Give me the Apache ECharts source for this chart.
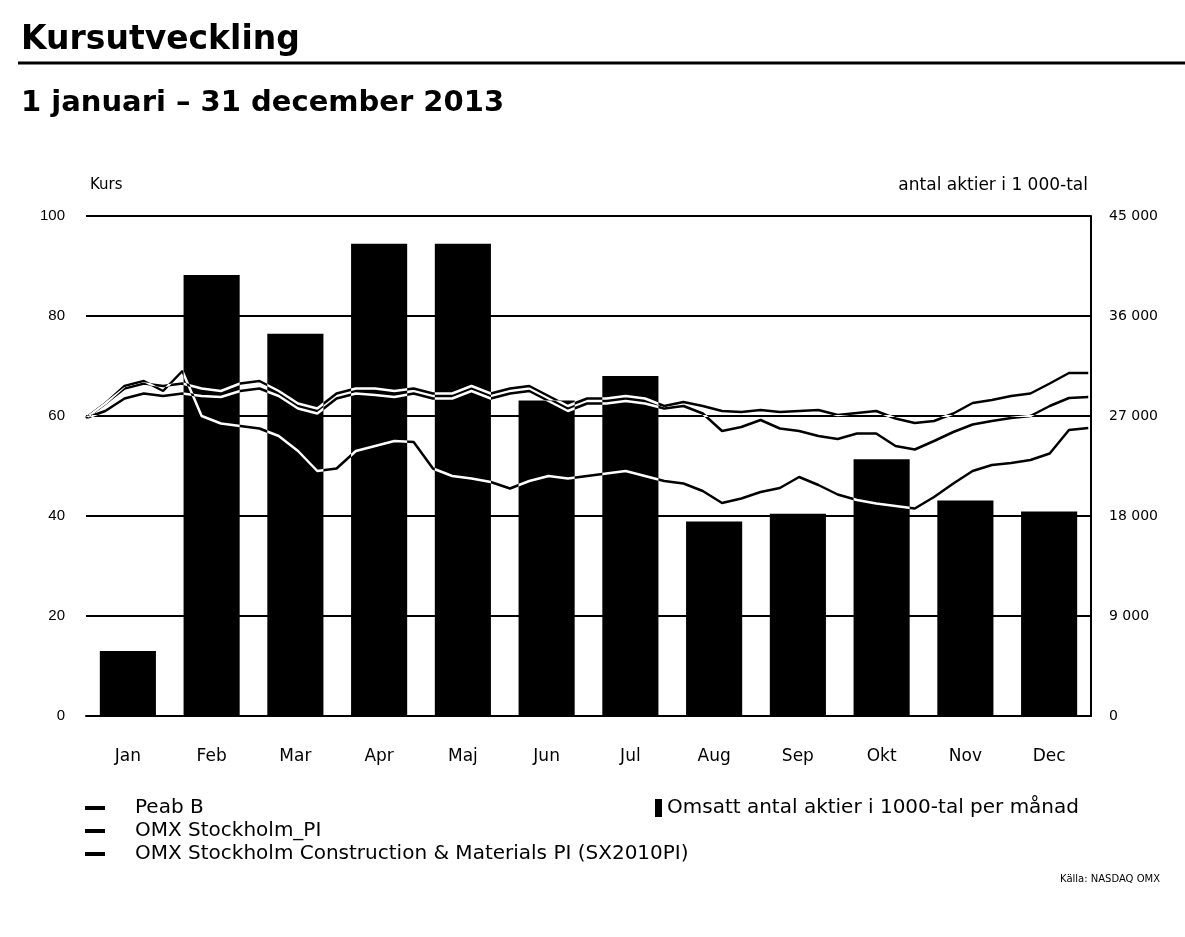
<!DOCTYPE html>
<html>
<head>
<meta charset="utf-8">
<script src="https://cdn.jsdelivr.net/npm/echarts@6/dist/echarts.min.js"></script>
<style>
  html, body { margin: 0; padding: 0; background: #fff; }
  #chart { width: 1185px; height: 937px; }
</style>
</head>
<body>
<div id="chart"></div>
<script>
// Månader och omsatt antal aktier (tusental) per månad
const months = ['Jan', 'Feb', 'Mar', 'Apr', 'Maj', 'Jun', 'Jul', 'Aug', 'Sep', 'Okt', 'Nov', 'Dec'];
const volume = [5850, 39700, 34400, 42500, 42500, 28400, 30600, 17500, 18200, 23100, 19400, 18400];

// Veckovisa kursnoteringar
const dates = [
  '2013-01-01', '2013-01-08', '2013-01-15', '2013-01-22', '2013-01-29',
  '2013-02-05', '2013-02-12', '2013-02-19', '2013-02-26',
  '2013-03-05', '2013-03-12', '2013-03-19', '2013-03-26',
  '2013-04-02', '2013-04-09', '2013-04-16', '2013-04-23', '2013-04-30',
  '2013-05-07', '2013-05-14', '2013-05-21', '2013-05-28',
  '2013-06-04', '2013-06-11', '2013-06-18', '2013-06-25',
  '2013-07-02', '2013-07-09', '2013-07-16', '2013-07-23', '2013-07-30',
  '2013-08-06', '2013-08-13', '2013-08-20', '2013-08-27',
  '2013-09-03', '2013-09-10', '2013-09-17', '2013-09-24',
  '2013-10-01', '2013-10-08', '2013-10-15', '2013-10-22', '2013-10-29',
  '2013-11-05', '2013-11-12', '2013-11-19', '2013-11-26',
  '2013-12-03', '2013-12-10', '2013-12-17', '2013-12-24', '2013-12-31'
];
const peabB = [
  59.6, 62.5, 66.0, 67.0, 65.0,
  69.0, 60.0, 58.5, 58.0,
  57.5, 56.0, 53.0, 49.0,
  49.5, 53.0, 54.0, 55.0, 54.8,
  49.5, 48.0, 47.5, 46.8,
  45.5, 47.0, 48.0, 47.5,
  48.0, 48.5, 49.0, 48.0, 47.0,
  46.5, 45.0, 42.6, 43.5,
  44.8, 45.6, 47.8, 46.2,
  44.3, 43.2, 42.5, 42.0, 41.5,
  43.8, 46.5, 49.0, 50.2,
  50.6, 51.2, 52.5, 57.2, 57.6
];
const omxPI = [
  59.6, 62.5, 65.5, 66.5, 66.0,
  66.5, 65.5, 65.0, 66.5,
  67.0, 65.0, 62.5, 61.5,
  64.5, 65.5, 65.5, 65.0, 65.5,
  64.5, 64.5, 66.0, 64.5,
  65.5, 66.0, 64.0, 62.0,
  63.5, 63.5, 64.0, 63.5, 62.0,
  62.8, 62.0, 61.0, 60.8,
  61.2, 60.8, 61.0, 61.2,
  60.2, 60.6, 61.0, 59.5, 58.6,
  59.0, 60.5, 62.6, 63.2,
  64.0, 64.5, 66.5, 68.6, 68.6
];
const omxConstr = [
  59.6, 61.0, 63.5, 64.5, 64.0,
  64.5, 64.0, 63.8, 65.0,
  65.5, 64.0, 61.5, 60.5,
  63.5, 64.5, 64.2, 63.8, 64.5,
  63.5, 63.5, 65.0, 63.5,
  64.5, 65.0, 63.0, 61.0,
  62.5, 62.5, 63.0, 62.5, 61.5,
  62.0, 60.5, 57.0, 57.8,
  59.2, 57.5, 57.0, 56.0,
  55.4, 56.5, 56.5, 54.0, 53.3,
  55.0, 56.8, 58.3, 59.0,
  59.6, 60.0, 62.0, 63.6, 63.8
];

const lineNames = ['Peab B', 'OMX Stockholm_PI', 'OMX Stockholm Construction & Materials PI (SX2010PI)'];
const barName = 'Omsatt antal aktier i 1000-tal per månad';

const FONT = '"DejaVu Sans", Verdana, sans-serif';
const NUM_FONT = '"Liberation Sans", Arial, sans-serif';
const pair = arr => dates.map((d, i) => [d, arr[i]]);
const fmtThousands = v => String(v).replace(/\B(?=(\d{3})+(?!\d))/g, ' ');

// Linjerna ritas vita med "difference", så att de syns mörka mot vit bakgrund
// och ljusa ovanpå de svarta staplarna.
const lineSeries = (name, arr) => ({
  name, type: 'line', xAxisIndex: 1, yAxisIndex: 0,
  data: pair(arr), showSymbol: false, symbol: 'none',
  lineStyle: { color: '#fff', width: 2.5 }, itemStyle: { color: '#000' },
  blendMode: 'difference', z: 5, animation: false
});

const chart = echarts.init(document.getElementById('chart'), null, { renderer: 'canvas' });
chart.setOption({
  backgroundColor: '#fff',
  animation: false,
  textStyle: { fontFamily: FONT, color: '#000' },
  title: [
    { text: 'Kursutveckling', left: 16, top: 19,
      textStyle: { fontFamily: FONT, fontSize: 33, fontWeight: 'bold', color: '#000' } },
    { text: '1 januari – 31 december 2013', left: 16, top: 84,
      textStyle: { fontFamily: FONT, fontSize: 29, fontWeight: 'bold', color: '#000' } }
  ],
  graphic: [
    { type: 'line', shape: { x1: 18, y1: 63, x2: 1185, y2: 63 },
      style: { stroke: '#000', lineWidth: 3 } },
    { type: 'text', left: 90, top: 178,
      style: { text: 'Kurs', font: '15px ' + FONT, fill: '#000' } },
    { type: 'text', right: 97, top: 177,
      style: { text: 'antal aktier i 1 000-tal', font: '17px ' + FONT, fill: '#000' } },
    { type: 'text', right: 25, top: 874,
      style: { text: 'Källa: NASDAQ OMX', font: '10px ' + FONT, fill: '#000' } }
  ],
  legend: [
    { orient: 'vertical', left: 80, top: 793, itemGap: 3, itemWidth: 20, itemHeight: 4,
      icon: 'rect',
      data: lineNames.map(n => ({ name: n, itemStyle: { color: '#000' }, lineStyle: { color: '#000' } })),
      textStyle: { fontFamily: FONT, fontSize: 20, color: '#000', padding: [0, 0, 0, 25] } },
    { left: 650, top: 793, itemWidth: 7, itemHeight: 18, icon: 'rect',
      data: [{ name: barName, itemStyle: { color: '#000' } }],
      textStyle: { fontFamily: FONT, fontSize: 20, color: '#000' } }
  ],
  grid: { left: 86, right: 94, top: 216, bottom: 221, containLabel: false },
  xAxis: [
    { type: 'category', data: months, boundaryGap: true,
      axisLine: { show: true, lineStyle: { color: '#000', width: 2 } },
      axisTick: { show: false },
      axisLabel: { fontFamily: FONT, fontSize: 17, color: '#000', margin: 32 } },
    { type: 'time', min: '2013-01-01', max: '2014-01-01', show: false }
  ],
  yAxis: [
    { type: 'value', min: 0, max: 100, interval: 20, position: 'left',
      axisLine: { show: false }, axisTick: { show: false },
      axisLabel: { fontFamily: NUM_FONT, fontSize: 15, color: '#000', margin: 21 },
      splitLine: { show: true, lineStyle: { color: '#000', width: 2 } } },
    { type: 'value', min: 0, max: 45000, interval: 9000, position: 'right',
      axisLine: { show: true, lineStyle: { color: '#000', width: 2 } },
      axisTick: { show: false }, splitLine: { show: false },
      axisLabel: { fontFamily: FONT, fontSize: 14, color: '#000', margin: 18,
        formatter: v => fmtThousands(v) } }
  ],
  series: [
    { name: barName, type: 'bar', xAxisIndex: 0, yAxisIndex: 1, data: volume,
      barWidth: '67%', itemStyle: { color: '#000' }, z: 2 },
    lineSeries(lineNames[0], peabB),
    lineSeries(lineNames[1], omxPI),
    lineSeries(lineNames[2], omxConstr)
  ]
});
</script>
</body>
</html>
